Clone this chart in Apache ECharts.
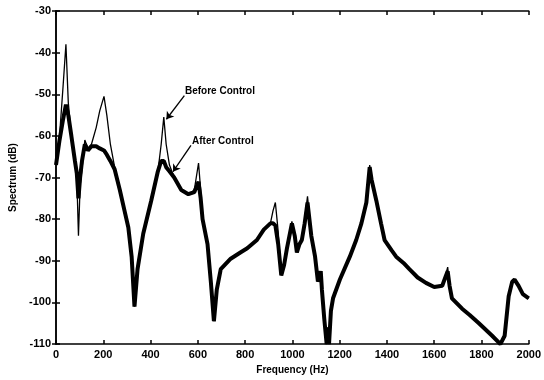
<!DOCTYPE html>
<html>
<head>
<meta charset="utf-8">
<script src="https://cdn.jsdelivr.net/npm/echarts@6/dist/echarts.min.js"></script>
<style>
  html, body { margin: 0; padding: 0; background: #fff; }
  #main { width: 544px; height: 380px; }
</style>
</head>
<body>
<div id="main"></div>
<script>
// 频率 (Hz) 与两条谱线 (dB)
var freqHz = [0, 15, 30, 42, 52, 65, 80, 88, 95, 102, 110, 122, 135, 150, 170, 185, 203, 215, 230, 248,
  270, 290, 306, 320, 332, 345, 369, 403, 431, 445, 456, 466, 480, 500, 530, 560, 585, 603, 612, 620,
  641, 655, 668, 680, 697, 739, 780, 809, 850, 879, 907, 918, 928, 940, 953, 965, 977, 998, 1010, 1019,
  1030, 1040, 1052, 1064, 1080, 1096, 1108, 1115, 1120, 1125, 1135, 1145, 1150, 1155, 1163, 1172, 1201, 1243, 1270, 1292,
  1313, 1322, 1327, 1335, 1355, 1375, 1390, 1420, 1439, 1470, 1495, 1530, 1565, 1600, 1634, 1650, 1657, 1665, 1675, 1718,
  1750, 1789, 1845, 1880, 1898, 1915, 1930, 1940, 1957, 1975, 2000];
var beforeDb = [-67, -60, -48, -38, -52, -60, -66, -70, -84, -72, -68, -61, -63, -62, -58, -54, -50.5, -55, -62, -67.5,
  -73, -78, -82, -89, -101, -92, -83.5, -75.5, -68.5, -62, -55.5, -62, -67, -70, -73, -74, -73, -66.5, -73, -80,
  -86, -95, -104.5, -97, -92, -89.5, -88, -87, -85, -82.5, -81, -78, -76, -83, -93.5, -91, -87, -80.5, -84, -88,
  -86, -85, -80, -74.5, -84, -89, -95, -93.5, -92.5, -97, -104, -110, -106, -110, -102, -99, -94.5, -89, -85, -81,
  -76, -70, -67, -70, -75.5, -81, -85, -87.5, -89, -90.5, -92, -94, -95.3, -96.3, -96, -93, -91.5, -96, -99, -101.5,
  -103, -105, -108, -110, -108, -98.5, -95, -94.5, -96, -98, -99];
var afterDb = [-67, -61, -56, -52.5, -55, -60, -66, -69, -75, -70, -66, -62, -63.5, -62.5, -62.5, -63, -63.5, -64.5, -66, -68,
  -73, -78, -82, -89, -101, -92, -83.5, -75.5, -68.5, -66, -66, -67.5, -68.5, -70, -73, -74, -73.5, -71, -75, -80,
  -86, -95, -104.5, -97, -92, -89.5, -88, -87, -85, -82.5, -81, -81, -81.5, -86, -93.5, -91, -87, -81, -84, -88,
  -86, -85, -81, -76, -84, -89, -95, -93.5, -92.5, -97, -104, -110, -106, -110, -102, -99, -94.5, -89, -85, -81,
  -76, -70.5, -67.5, -70.5, -75.5, -81, -85, -87.5, -89, -90.5, -92, -94, -95.3, -96.3, -96, -93.5, -92.5, -96, -99, -101.5,
  -103, -105, -108, -110, -108, -98.5, -95, -94.5, -96, -98, -99];

function pairs(vals) {
  return freqHz.map(function (f, i) { return [f, vals[i]]; });
}

var myChart = echarts.init(document.getElementById("main"));

var labelFont = { color: "#000", fontFamily: "Liberation Sans", fontWeight: "bold", fontSize: 11 };
var boxLine = { show: true, lineStyle: { color: "#000", width: 1.5 } };
var tick = { show: true, inside: true, length: 4, lineStyle: { color: "#000", width: 1.5 } };

var option = {
  animation: false,
  grid: { left: 54, right: 15, top: 11, bottom: 33 },
  xAxis: [
    {
      type: "value", min: 0, max: 2000, interval: 200,
      axisLine: boxLine, axisTick: tick, splitLine: { show: false },
      axisLabel: Object.assign({ margin: 5, formatter: function (v) { return String(v); } }, labelFont),
      name: "Frequency (Hz)", nameLocation: "middle", nameGap: 19,
      nameTextStyle: { color: "#000", fontFamily: "Liberation Sans", fontWeight: "bold", fontSize: 10 }
    },
    {
      type: "value", min: 0, max: 2000, interval: 200, position: "top",
      axisLine: boxLine, axisTick: tick, axisLabel: { show: false }, splitLine: { show: false }
    }
  ],
  yAxis: [
    {
      type: "value", min: -110, max: -30, interval: 10,
      axisLine: boxLine, axisTick: tick, splitLine: { show: false },
      axisLabel: Object.assign({ margin: 5 }, labelFont),
      name: "Spectrum (dB)", nameLocation: "middle", nameGap: 38, nameRotate: 90,
      nameTextStyle: { color: "#000", fontFamily: "Liberation Sans", fontWeight: "bold", fontSize: 10 }
    },
    {
      type: "value", min: -110, max: -30, interval: 10, position: "right",
      axisLine: boxLine, axisTick: tick, axisLabel: { show: false }, splitLine: { show: false }
    }
  ],
  series: [
    {
      name: "After Control",
      type: "line",
      data: pairs(afterDb),
      showSymbol: false,
      lineStyle: { color: "#000", width: 4 },
      z: 2
    },
    {
      name: "Before Control",
      type: "line",
      data: pairs(beforeDb),
      showSymbol: false,
      lineStyle: { color: "#000", width: 1.3 },
      z: 3,
      markLine: {
        silent: true,
        symbol: ["none", "arrow"],
        symbolSize: 7,
        label: { show: false },
        lineStyle: { color: "#000", width: 1.3, type: "solid" },
        data: [
          [{ coord: [543, -50.3] }, { coord: [467, -56] }],
          [{ coord: [571, -62.3] }, { coord: [495, -68.6] }]
        ]
      }
    }
  ],
  graphic: [
    { type: "text", left: 185, top: 86, style: { text: "Before Control", fill: "#000", font: "bold 10px 'Liberation Sans'" } },
    { type: "text", left: 192, top: 136, style: { text: "After Control", fill: "#000", font: "bold 10px 'Liberation Sans'" } }
  ]
};

myChart.setOption(option);
</script>
</body>
</html>
